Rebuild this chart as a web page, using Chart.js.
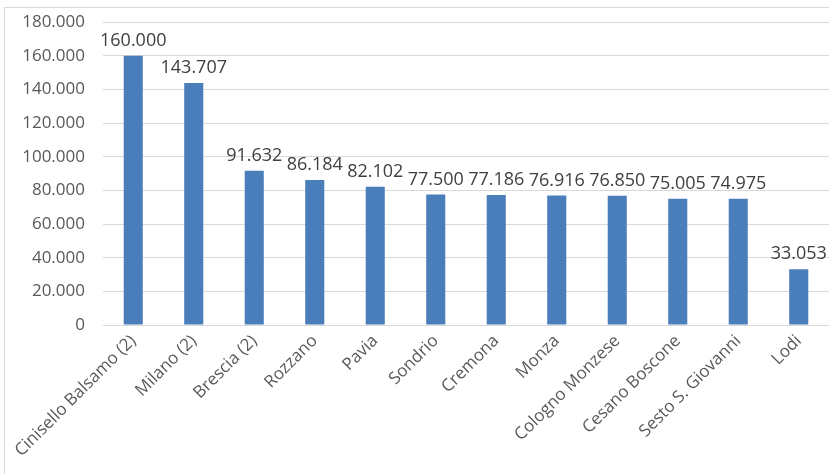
<!DOCTYPE html>
<html>
<head>
<meta charset="utf-8">
<script src="https://cdn.jsdelivr.net/npm/chart.js@4/dist/chart.umd.min.js"></script>
<style>
  html, body { margin: 0; padding: 0; background: #ffffff; }
  canvas { display: block; }
</style>
</head>
<body>
<canvas id="c" width="829" height="474"></canvas>
<script>
const categories = ["Cinisello Balsamo (2)", "Milano (2)", "Brescia (2)", "Rozzano", "Pavia", "Sondrio", "Cremona", "Monza", "Cologno Monzese", "Cesano Boscone", "Sesto S. Giovanni", "Lodi"];
const values = [160000, 143707, 91632, 86184, 82102, 77500, 77186, 76916, 76850, 75005, 74975, 33053];
const yTicks = [0, 20000, 40000, 60000, 80000, 100000, 120000, 140000, 160000, 180000];

function fmt(v) {
  return String(Math.round(v)).replace(/\B(?=(\d{3})+(?!\d))/g, ".");
}

const FONT = "'Open Sans', 'Noto Sans', sans-serif";

const framePlugin = {
  id: 'frame',
  beforeDraw(chart) {
    const ctx = chart.ctx;
    ctx.save();
    ctx.fillStyle = '#ffffff';
    ctx.fillRect(0, 0, chart.width, chart.height);
    ctx.strokeStyle = '#D9D9D9';
    ctx.lineWidth = 1;
    ctx.strokeRect(4.5, 7.5, chart.width + 10, chart.height + 10);
    ctx.restore();
  }
};

const labelPlugin = {
  id: 'valueLabels',
  afterDatasetsDraw(chart) {
    const ctx = chart.ctx;
    const meta = chart.getDatasetMeta(0);
    ctx.save();
    ctx.font = "18px " + FONT;
    ctx.fillStyle = '#404040';
    ctx.textAlign = 'center';
    ctx.textBaseline = 'alphabetic';
    meta.data.forEach((bar, i) => {
      ctx.fillText(fmt(chart.data.datasets[0].data[i]), bar.x, bar.y - 10);
    });
    ctx.restore();
  }
};

new Chart(document.getElementById('c'), {
  type: 'bar',
  data: {
    labels: categories,
    datasets: [{
      data: values,
      backgroundColor: '#4A7EBB',
      borderWidth: 0,
      barPercentage: 0.63,
      categoryPercentage: 0.5
    }]
  },
  options: {
    responsive: false,
    animation: false,
    layout: { padding: { top: 22, right: 0, bottom: 0, left: 0 } },
    plugins: {
      legend: { display: false },
      tooltip: { enabled: false }
    },
    scales: {
      x: {
        grid: { display: false, drawTicks: false },
        border: { display: false },
        ticks: {
          autoSkip: false,
          minRotation: 45,
          maxRotation: 45,
          padding: 6,
          color: '#595959',
          font: { family: FONT, size: 17 }
        },
        afterFit(scale) {
          scale.height = 149;
          scale.paddingLeft = 0; scale.paddingRight = 0;
          scale.paddingTop = 0; scale.paddingBottom = 0;
        }
      },
      y: {
        min: 0,
        max: 180000,
        afterBuildTicks(scale) { scale.ticks = yTicks.map(v => ({ value: v })); },
        grid: { color: '#D9D9D9', drawTicks: false },
        border: { display: false },
        ticks: {
          padding: 18,
          color: '#595959',
          font: { family: FONT, size: 17 },
          callback: (v) => fmt(v)
        },
        afterFit(scale) {
          scale.width = 103;
          scale.paddingTop = 0; scale.paddingBottom = 0;
          scale.paddingLeft = 0; scale.paddingRight = 0;
        }
      }
    }
  },
  plugins: [framePlugin, labelPlugin]
});
</script>
</body>
</html>
